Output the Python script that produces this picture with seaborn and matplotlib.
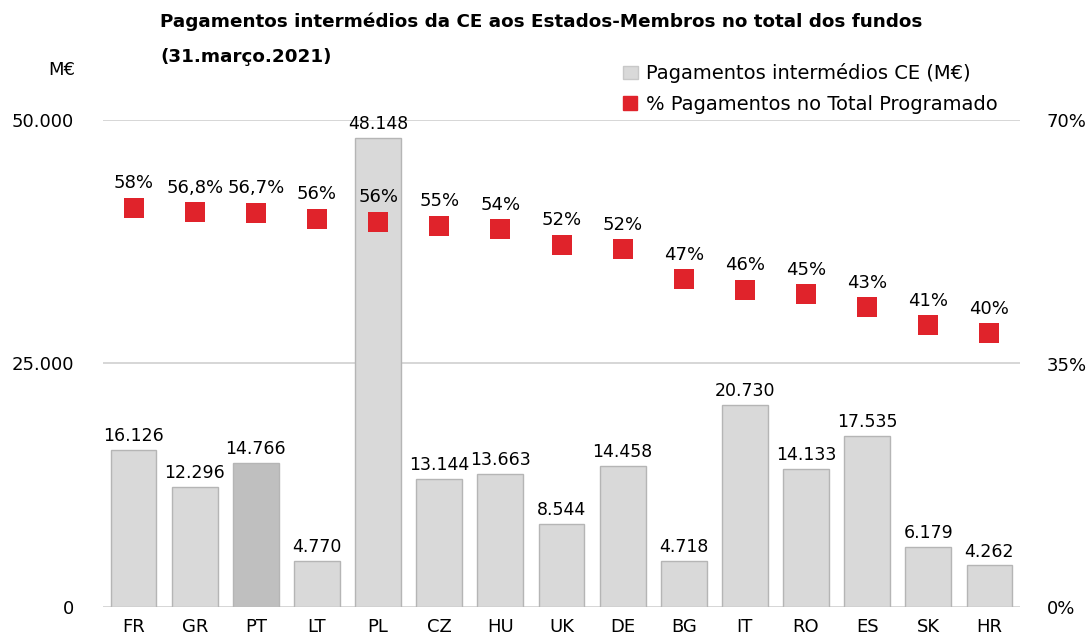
import matplotlib
matplotlib.use("Agg")
import matplotlib.pyplot as plt
import seaborn as sns
import pandas as pd
from matplotlib.patches import Patch
from matplotlib.lines import Line2D

countries = ["FR", "GR", "PT", "LT", "PL", "CZ", "HU", "UK", "DE", "BG", "IT", "RO", "ES", "SK", "HR"]
payments = [16126, 12296, 14766, 4770, 48148, 13144, 13663, 8544, 14458, 4718, 20730, 14133, 17535, 6179, 4262]
pct = [57.4, 56.8, 56.7, 55.8, 55.4, 54.8, 54.3, 52.1, 51.4, 47.1, 45.6, 45.0, 43.1, 40.5, 39.4]
pct_labels = ["58%", "56,8%", "56,7%", "56%", "56%", "55%", "54%", "52%", "52%", "47%", "46%", "45%", "43%", "41%", "40%"]

df = pd.DataFrame({"pais": countries, "pag": payments, "pct": pct})

sns.set_style("white")
plt.rcParams["font.family"] = ["DejaVu Sans"]
plt.rcParams["text.color"] = "black"
plt.rcParams["xtick.color"] = "black"
plt.rcParams["ytick.color"] = "black"

bar_col = "#d9d9d9"
pt_col = "#bfbfbf"
red = "#e0232b"
palette = {c: (pt_col if c == "PT" else bar_col) for c in countries}

fig = plt.figure(figsize=(10.88, 6.39), dpi=100)
ax = fig.add_axes([103 / 1088, 1 - 607 / 639, 917 / 1088, 487 / 639])

sns.barplot(data=df, x="pais", y="pag", hue="pais", palette=palette, legend=False,
            width=0.75, edgecolor="#b5b5b5", linewidth=1, ax=ax, zorder=2)
ax.set_xlim(-0.5, len(countries) - 0.5)
ax.set_ylim(0, 50000)
ax.set_yticks([0, 25000, 50000])
ax.set_yticklabels(["0", "25.000", "50.000"])
ax.yaxis.grid(True, color="#d0d0d0", linewidth=1.2, zorder=0)
ax.set_axisbelow(True)
ax.set_xlabel("")
ax.set_ylabel("")
for s in ax.spines.values():
    s.set_visible(False)
ax.tick_params(axis="y", length=0, pad=21, labelsize=13)
ax.tick_params(axis="x", length=0, pad=8, labelsize=13)

for i, v in enumerate(payments):
    ax.text(i, v + 500, f"{v:,}".replace(",", "."), ha="center", va="bottom", fontsize=12.5)

ax2 = ax.twinx()
sns.scatterplot(data=df, x="pais", y="pct", marker="s", s=220, color=red, edgecolor=red,
                linewidth=0, ax=ax2, zorder=3)
ax2.set_ylim(0, 70)
ax2.set_yticks([0, 35, 70])
ax2.set_yticklabels(["0%", "35%", "70%"])
ax2.set_ylabel("")
for s in ax2.spines.values():
    s.set_visible(False)
ax2.tick_params(axis="y", length=0, pad=19, labelsize=13)
for i, (v, lab) in enumerate(zip(pct, pct_labels)):
    ax2.text(i, v + 2.2, lab, ha="center", va="bottom", fontsize=13)

fig.text(160 / 1088, 1 - 22 / 639, "Pagamentos intermédios da CE aos Estados-Membros no total dos fundos",
         fontsize=13.2, fontweight="bold", va="center", ha="left")
fig.text(160 / 1088, 1 - 57 / 639, "(31.março.2021)", fontsize=13.2, fontweight="bold", va="center", ha="left")
fig.text(62 / 1088, 1 - 70 / 639, "M€", fontsize=13, va="center", ha="center")

handles = [Patch(facecolor=bar_col, edgecolor="#c8c8c8", label="Pagamentos intermédios CE (M€)"),
           Line2D([], [], marker="s", linestyle="", color=red, markersize=10, label="% Pagamentos no Total Programado")]
fig.legend(handles=handles, loc="upper left", bbox_to_anchor=(605 / 1088, 1 - 46 / 639), frameon=False,
           fontsize=14, handlelength=0.8, handletextpad=0.4, labelspacing=0.6)

fig.savefig("out.png", dpi=100)
